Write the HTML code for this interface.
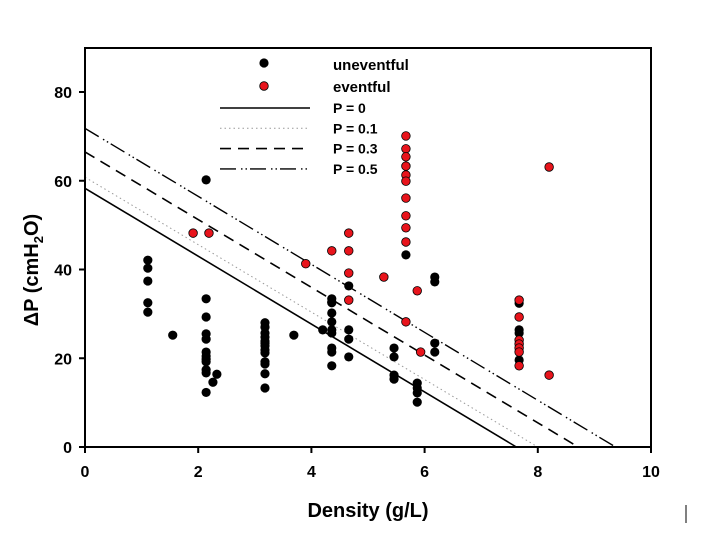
<!DOCTYPE html>
<html><head><meta charset="utf-8"><style>
body{margin:0;background:#fff;}
svg text{font-family:"Liberation Sans",Arial,sans-serif;font-weight:bold;}
</style></head><body>
<svg id="chart" width="709" height="530" viewBox="0 0 709 530">
<rect width="709" height="530" fill="#fff"/>
<g id="grid"></g>
</svg>
<script>
const xTicks=[0,2,4,6,8,10];
const yTicks=[0,20,40,60,80];
const uneventX=[1.11,1.11,1.11,1.11,1.11,1.55,2.14,2.14,2.14,2.14,2.14,2.14,2.14,2.14,2.14,2.14,2.14,2.14,2.26,2.33,3.18,3.18,3.18,3.18,3.18,3.18,3.18,3.18,3.18,3.18,3.18,3.18,3.18,3.69,4.2,4.36,4.36,4.36,4.36,4.36,4.36,4.36,4.36,4.36,4.36,4.66,4.66,4.66,4.66,5.46,5.46,5.46,5.46,5.67,5.87,5.87,5.87,5.87,6.18,6.18,6.18,6.18,7.67,7.67,7.67,7.67];
const uneventY=[42.1,40.3,37.4,32.5,30.4,25.2,60.2,33.4,29.3,25.5,24.3,21.4,20.5,19.8,19.2,17.4,16.7,12.3,14.6,16.4,28,27,25.7,24.8,23.9,23.4,22.8,21.9,21.2,19.2,18.7,16.5,13.3,25.2,26.4,33.4,32.7,32.5,30.2,28.2,26.4,25.7,22.3,21.4,18.3,36.3,26.4,24.3,20.3,22.3,20.3,16.2,15.3,43.3,14.4,13.3,12.2,10.1,38.3,37.2,23.4,21.4,32.4,26.4,25.7,19.6];
const eventX=[1.91,2.19,3.9,4.36,4.66,4.66,4.66,4.66,5.28,5.67,5.67,5.67,5.67,5.67,5.67,5.67,5.67,5.67,5.67,5.67,5.87,5.93,7.67,7.67,7.67,7.67,7.67,7.67,7.67,8.2,8.2];
const eventY=[48.2,48.2,41.3,44.2,48.2,44.2,39.2,33.1,38.3,70.1,67.2,65.4,63.3,61.3,59.9,56.1,52.1,49.4,46.2,28.2,35.2,21.4,33.1,29.3,24.1,23.2,22.3,21.4,18.3,63.1,16.2];
const lineLabels=["P = 0","P = 0.1","P = 0.3","P = 0.5"];
const lineIntercepts=[58.3,60.8,66.5,71.8];
const lineSlopes=[-7.65,-7.6,-7.63,-7.66];

const X0=85,X1=651,Y0=447,Y1=92;
const xs=v=>X0+(v-0)/(10-0)*(X1-X0);
const ys=v=>Y0-(v-0)/(80-0)*(Y0-Y1);
const svg=document.getElementById('chart');
const NS='http://www.w3.org/2000/svg';
function mk(tag,attrs,parent){const e=document.createElementNS(NS,tag);for(const k in attrs)e.setAttribute(k,attrs[k]);(parent||svg).appendChild(e);return e;}
const dashes=["","1.5,3","11,7","16,5,1.5,3,1.5,3"];
const strokes=["#000","#999","#000","#000"];
const widths=[1.6,1,1.6,1.4];
// fit lines
lineIntercepts.forEach((b,i)=>{
  const m=lineSlopes[i];const xe=-b/m;
  const l=mk('line',{x1:xs(0),y1:ys(b),x2:xs(xe),y2:ys(0),stroke:strokes[i],'stroke-width':widths[i],'stroke-dasharray':dashes[i]});
  
  
});
// frame
const fr=mk('rect',{x:X0,y:48,width:X1-X0,height:Y0-48,fill:'none',stroke:'#000','stroke-width':2});


// ticks
xTicks.forEach(t=>{
  const tl=mk('line',{x1:xs(t),y1:Y0,x2:xs(t),y2:Y0+6,stroke:'#000','stroke-width':2});
  
  
  const tx=mk('text',{x:xs(t),y:Y0+30,'text-anchor':'middle','font-size':16});
  tx.textContent=t;
  
  
});
yTicks.forEach(t=>{
  const tl=mk('line',{x1:X0-6,y1:ys(t),x2:X0,y2:ys(t),stroke:'#000','stroke-width':2});
  
  
  const tx=mk('text',{x:X0-13,y:ys(t)+6,'text-anchor':'end','font-size':16});
  tx.textContent=t;
  
  
});
// points
uneventX.forEach((x,i)=>{
  const c=mk('circle',{cx:xs(x),cy:ys(uneventY[i]),r:4.6,fill:'#000'});
  
  
});
eventX.forEach((x,i)=>{
  const c=mk('circle',{cx:xs(x),cy:ys(eventY[i]),r:4.3,fill:'#e8141c',stroke:'#000','stroke-width':0.8});
  
  
});
// legend
const lg=mk('g',{});


const m1=mk('circle',{cx:264,cy:63,r:4.6,fill:'#000'},lg);


const m2=mk('circle',{cx:264,cy:86,r:4.3,fill:'#e8141c',stroke:'#000','stroke-width':0.8},lg);


const t1=mk('text',{x:333,y:70,'font-size':15},lg);t1.textContent='uneventful';


const t2=mk('text',{x:333,y:92,'font-size':15},lg);t2.textContent='eventful';


lineLabels.forEach((lab,i)=>{
  const yy=108+i*20.3;
  const l=mk('line',{x1:220,y1:yy,x2:310,y2:yy,stroke:strokes[i],'stroke-width':widths[i],'stroke-dasharray':dashes[i]},lg);
  
  
  const t=mk('text',{x:333,y:yy+5,'font-size':14},lg);t.textContent=lab;
  
  
});
// axis titles
const xt=mk('text',{x:368,y:517,'text-anchor':'middle','font-size':20});
xt.textContent='Density (g/L)';


const yt=mk('text',{transform:'translate(38,270) rotate(-90)','text-anchor':'middle','font-size':20});
yt.innerHTML='ΔP (cmH<tspan font-size="13" dy="5">2</tspan><tspan dy="-5">O)</tspan>';


const mark=mk('line',{x1:686,y1:505,x2:686,y2:523,stroke:'#000','stroke-width':1});


</script>
</body></html>
